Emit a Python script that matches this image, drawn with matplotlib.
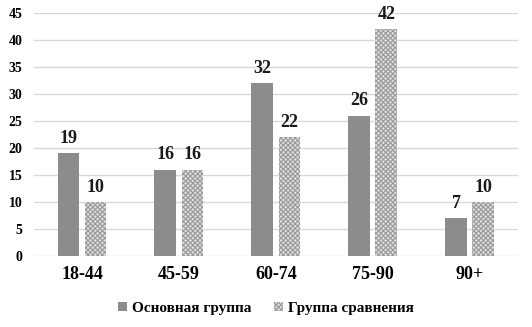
import matplotlib.pyplot as plt
import matplotlib as mpl
import numpy as np

categories = ['18-44', '45-59', '60-74', '75-90', '90+']
main_group = [19, 16, 32, 26, 7]
compare_group = [10, 16, 22, 42, 10]
labels = ['Основная группа', 'Группа сравнения']

plt.rcParams['font.family'] = ['Liberation Serif', 'DejaVu Serif']
plt.rcParams['font.weight'] = 'bold'
mpl.rcParams['hatch.linewidth'] = 0.8
mpl.rcParams['hatch.color'] = '#9a9a9a'

fig = plt.figure(figsize=(5.32, 3.27), dpi=100)
ax = fig.add_axes([0.063, 0.217, 0.911, 0.743])

x = np.arange(len(categories))
w = 0.225
off = 0.14
b1 = ax.bar(x - off, main_group, w, color='#8c8c8c', label=labels[0], zorder=3)
b2 = ax.bar(x + off, compare_group, w, color='#dedede', hatch='xxxxxxx',
            edgecolor='#9a9a9a', linewidth=0, label=labels[1], zorder=3)

for bars in (b1, b2):
    for r in bars:
        ax.text(r.get_x() + r.get_width() / 2, r.get_height() + 1.2, f'{int(r.get_height())}',
                ha='center', va='bottom', fontsize=13, fontweight='bold', color='#1a1a1a')

ax.set_xlim(-0.5, len(categories) - 0.5)
ax.set_ylim(0, 45)
ax.set_yticks(range(0, 46, 5))
ax.set_xticks(x)
ax.set_xticklabels(categories, fontsize=13, fontweight='bold')
ax.tick_params(axis='y', labelsize=10, length=0, pad=8)
ax.tick_params(axis='x', length=0, pad=7)
ax.grid(axis='y', color='#d9d9d9', linewidth=1, zorder=0)
for s in ax.spines.values():
    s.set_visible(False)

leg = fig.legend(loc='lower center', bbox_to_anchor=(0.5, -0.005), ncol=2, frameon=False,
                 prop={'size': 11, 'weight': 'bold'}, handlelength=0.6, handleheight=0.6,
                 handletextpad=0.3, columnspacing=1.5)

fig.savefig('out.png', dpi=100)
